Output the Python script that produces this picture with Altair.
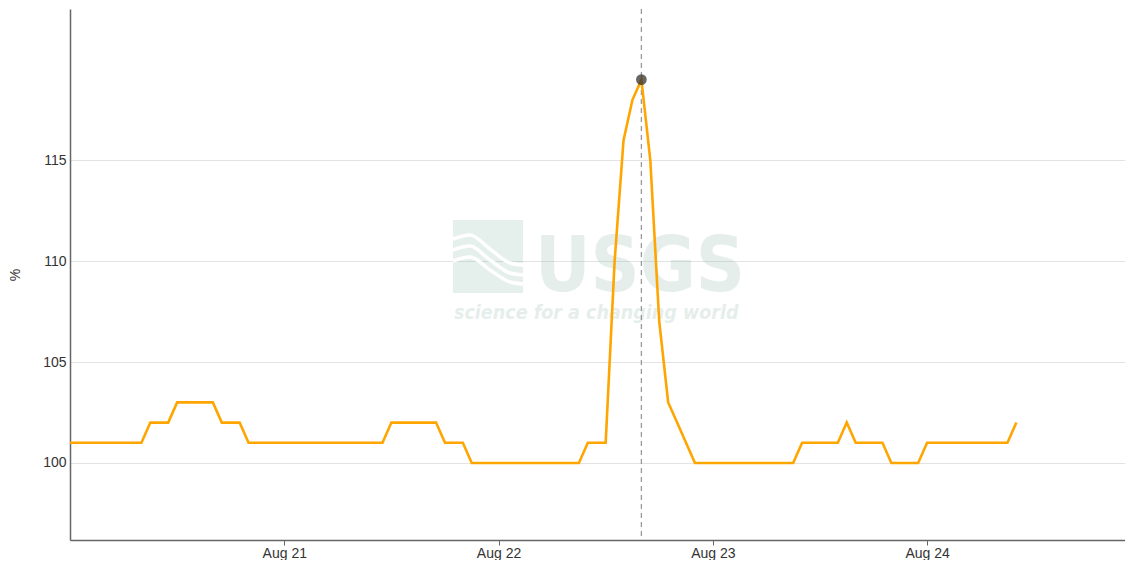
import altair as alt
import pandas as pd

# ---- data (hourly values, % ) ----
start_time = "2023-08-20T00:00:00"
values = (
    [101] * 9 + [102] * 3 + [103] * 5 + [102] * 3 + [101] * 16 + [102] * 6 +
    [101] * 3 + [100] * 13 + [101] * 3 +
    [110, 116, 118, 119, 115, 107, 103, 102, 101] +
    [100] * 12 + [101] * 5 + [102] + [101] * 4 + [100] * 4 + [101] * 10 + [102]
)
times = pd.date_range(start_time, periods=len(values), freq="h")
peak_time = "2023-08-22T16:00:00"
peak_value = 119
tick_days = [21, 22, 23, 24]
y_ticks = [100, 105, 110, 115]

df = pd.DataFrame({"time": times.strftime("%Y-%m-%dT%H:%M:%S"), "value": values})
peak_df = pd.DataFrame({"time": [peak_time], "value": [peak_value]})

W, H = 1055, 531
FONT = "Liberation Sans"

x_scale = alt.Scale(domain=[alt.DateTime(year=2023, month=8, date=20, hours=0),
                            alt.DateTime(year=2023, month=8, date=24, hours=22, minutes=10)])
y_scale = alt.Scale(domain=[96.18, 122.50], nice=False, zero=False)

x_axis = alt.Axis(
    title=None, format="%b %d", grid=False,
    values=[alt.DateTime(year=2023, month=8, date=d) for d in tick_days],
    tickSize=5, tickColor="#666", labelPadding=1, labelFontSize=14,
    labelColor="#333", labelFont=FONT, domainColor="#666", domainWidth=1.5,
)
y_axis = alt.Axis(
    title="%", values=y_ticks, ticks=False, labelPadding=4, labelFontSize=14,
    labelColor="#333", labelFont=FONT, titleFont=FONT, titleFontSize=14,
    titleFontWeight="normal", titleColor="#333", titlePadding=20,
    gridColor="#e3e3e3", gridWidth=1, domainColor="#666", domainWidth=1.5,
)

# ---- USGS watermark (decoration) ----
wm_fill = "#7fae9f"
wm_op = 0.2
icon = alt.Chart(pd.DataFrame({"a": [0]})).mark_rect(
    color=wm_fill, opacity=wm_op
).encode(x=alt.value(383), x2=alt.value(453), y=alt.value(211), y2=alt.value(284))

wave_df = pd.DataFrame({
    "px": [383, 400, 420, 440, 453, 383, 400, 420, 440, 453, 383, 400, 420, 440, 453],
    "py": [230, 226, 240, 254, 256, 241, 237, 251, 264, 266, 252, 248, 261, 273, 275],
    "k": ["a"] * 5 + ["b"] * 5 + ["c"] * 5,
})
waves = alt.Chart(wave_df).mark_line(
    color="white", strokeWidth=3.5, interpolate="monotone"
).encode(
    x=alt.X("px:Q", scale=None), y=alt.Y("py:Q", scale=None), detail="k:N"
)
usgs = alt.Chart(pd.DataFrame({"t": ["USGS"]})).mark_text(
    font="DejaVu Sans Condensed, Liberation Sans",
    fontWeight="bold", fontSize=76, color=wm_fill, opacity=wm_op,
    align="left", baseline="alphabetic",
).encode(x=alt.value(465), y=alt.value(282), text="t:N")
slogan = alt.Chart(pd.DataFrame({"t": ["science for a changing world"]})).mark_text(
    font="DejaVu Sans Condensed, Liberation Sans",
    fontWeight="bold", fontStyle="italic", fontSize=19.5, color=wm_fill, opacity=wm_op,
    align="left", baseline="alphabetic",
).encode(x=alt.value(384), y=alt.value(310), text="t:N")

line = alt.Chart(df).mark_line(color="#FFA500", strokeWidth=2.6).encode(
    x=alt.X("time:T", scale=x_scale, axis=x_axis),
    y=alt.Y("value:Q", scale=y_scale, axis=y_axis),
)
rule = alt.Chart(peak_df).mark_rule(
    color="#999", strokeDash=[5, 4], strokeWidth=1.3
).encode(x=alt.X("time:T", scale=x_scale))
point = alt.Chart(peak_df).mark_point(
    filled=True, color="#333", opacity=0.75, size=115
).encode(x=alt.X("time:T", scale=x_scale), y=alt.Y("value:Q", scale=y_scale))

chart = alt.layer(icon, waves, usgs, slogan, rule, line, point).properties(
    width=W, height=H, padding=0, background="white"
).configure_view(stroke=None)

chart.save("out.html", embed_options={"renderer": "svg", "actions": False})
